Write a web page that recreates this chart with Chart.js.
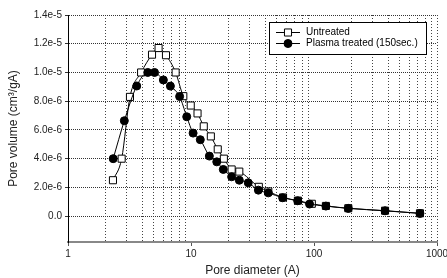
<!DOCTYPE html>
<html>
<head>
<meta charset="utf-8">
<script src="https://cdn.jsdelivr.net/npm/chart.js@4/dist/chart.umd.min.js"></script>
<style>
html, body { margin: 0; padding: 0; background: #fff; }
</style>
</head>
<body>
<canvas id="poreChart" width="447" height="278"></canvas>
<script>
// pore diameter (A) and pore volume values
var untreatedDiameter = [2.32, 2.73, 3.19, 3.93, 4.82, 5.45, 6.26, 7.5, 8.66, 9.95, 11.3, 12.7, 14.5,
    16.5, 18.5, 21.4, 24.7, 35.6, 42.5, 56, 74, 96, 125, 190, 378, 727];
var untreatedVolume = [2.5e-6, 4.0e-6, 8.3e-6, 1.0e-5, 1.124e-5, 1.17e-5, 1.12e-5, 1.0e-5, 8.35e-6, 7.7e-6,
    7.15e-6, 6.25e-6, 5.55e-6, 4.65e-6, 4.0e-6, 3.25e-6, 3.1e-6, 2.04e-6, 1.72e-6, 1.3e-6, 1.08e-6,
    0.86e-6, 0.71e-6, 0.55e-6, 0.38e-6, 0.2e-6];
var plasmaDiameter = [2.33, 2.87, 3.62, 4.45, 5.05, 5.96, 6.8, 8.08, 9.23, 10.4, 11.9, 14.1, 16.2,
    18.3, 21.4, 24.7, 29.2, 35.3, 42.5, 55.6, 73.7, 92, 125, 190, 378, 727];
var plasmaVolume = [4.0e-6, 6.64e-6, 9.06e-6, 1.0e-5, 1.0e-5, 9.48e-6, 9.05e-6, 8.33e-6, 6.92e-6, 5.78e-6,
    5.32e-6, 4.18e-6, 3.78e-6, 3.25e-6, 2.74e-6, 2.5e-6, 2.32e-6, 1.81e-6, 1.62e-6, 1.28e-6, 1.07e-6,
    0.84e-6, 0.70e-6, 0.54e-6, 0.37e-6, 0.19e-6];
var seriesLabels = ["Untreated", "Plasma treated (150sec.)"];
// axis ticks
var xDecades = [1, 10, 100, 1000];
var xMinorSteps = [2, 3, 4, 5, 6, 7, 8, 9];
var yTickValues = [0, 2e-6, 4e-6, 6e-6, 8e-6, 1.0e-5, 1.2e-5, 1.4e-5];
var yTickLabels = ["0.0", "2.0e-6", "4.0e-6", "6.0e-6", "8.0e-6", "1.0e-5", "1.2e-5", "1.4e-5"];

var FONT = "'Liberation Sans', Arial, sans-serif";

function toPoints(xs, ys) {
    var pts = [];
    for (var i = 0; i < xs.length; i++) {
        pts.push({ x: xs[i], y: ys[i] });
    }
    return pts;
}

function isDecade(v) {
    return xDecades.indexOf(v) !== -1;
}

//legend box drawn inside the plot like the original
var boxLegend = {
    id: 'boxLegend',
    afterDatasetsDraw: function (chart) {
        var ctx = chart.ctx;
        var left = 269, top = 22, right = 426, bottom = 54;
        ctx.save();
        ctx.fillStyle = '#fff';
        ctx.fillRect(left, top, right - left, bottom - top);
        ctx.strokeStyle = '#000';
        ctx.lineWidth = 1;
        ctx.strokeRect(left + 0.5, top + 0.5, right - left, bottom - top);
        var rows = [32, 43];
        for (var i = 0; i < 2; i++) {
            var ds = chart.data.datasets[i];
            var y = rows[i];
            ctx.strokeStyle = '#000';
            ctx.lineWidth = 1;
            ctx.beginPath();
            ctx.moveTo(276, y + 0.5);
            ctx.lineTo(300, y + 0.5);
            ctx.stroke();
            ctx.fillStyle = ds.pointBackgroundColor;
            ctx.beginPath();
            if (ds.pointStyle === 'rect') {
                var s = ds.pointRadius * Math.SQRT1_2;
                ctx.rect(288 - s, y + 0.5 - s, 2 * s, 2 * s);
            } else {
                ctx.arc(288, y + 0.5, ds.pointRadius, 0, Math.PI * 2);
            }
            ctx.fill();
            ctx.stroke();
            ctx.fillStyle = '#000';
            ctx.font = '10px ' + FONT;
            ctx.textBaseline = 'middle';
            ctx.textAlign = 'left';
            ctx.fillText(ds.label, 306, y);
        }
        ctx.restore();
    }
};

var config = {
    type: 'scatter',
    data: {
        datasets: [
            {
                label: seriesLabels[0],
                data: toPoints(untreatedDiameter, untreatedVolume),
                order: 1,
                showLine: true,
                borderColor: '#000',
                borderWidth: 1,
                pointStyle: 'rect',
                pointRadius: 5,
                pointBackgroundColor: '#fff',
                pointBorderColor: '#000',
                pointBorderWidth: 1,
                cubicInterpolationMode: 'monotone'
            },
            {
                label: seriesLabels[1],
                data: toPoints(plasmaDiameter, plasmaVolume),
                order: 0,
                showLine: true,
                borderColor: '#000',
                borderWidth: 1,
                pointStyle: 'circle',
                pointRadius: 4,
                pointBackgroundColor: '#000',
                pointBorderColor: '#000',
                pointBorderWidth: 1,
                cubicInterpolationMode: 'monotone'
            }
        ]
    },
    options: {
        responsive: false,
        animation: false,
        devicePixelRatio: 1,
        layout: { padding: { top: 15, right: 10, left: 0, bottom: 0 } },
        plugins: {
            legend: { display: false },
            tooltip: { enabled: false }
        },
        scales: {
            x: {
                type: 'logarithmic',
                min: 1,
                max: 1000,
                afterBuildTicks: function (scale) {
                    var ticks = [];
                    for (var d = 0; d < xDecades.length; d++) {
                        ticks.push({ value: xDecades[d] });
                        if (d < xDecades.length - 1) {
                            for (var m = 0; m < xMinorSteps.length; m++) {
                                ticks.push({ value: xDecades[d] * xMinorSteps[m] });
                            }
                        }
                    }
                    scale.ticks = ticks;
                },
                afterFit: function (scale) {
                    scale.height = 36;
                    scale.paddingLeft = 0;
                    scale.paddingRight = 0;
                },
                ticks: {
                    autoSkip: false,
                    maxRotation: 0,
                    padding: 2,
                    color: '#222',
                    font: { family: FONT, size: 10 },
                    callback: function (value) {
                        return isDecade(value) ? String(value) : '';
                    }
                },
                grid: {
                    color: function (c) {
                        var v = c.tick ? c.tick.value : null;
                        if (v === 10 || v === 100 || v === 1) return 'rgba(0,0,0,0)';
                        return '#444';
                    },
                    tickColor: function (c) {
                        var v = c.tick ? c.tick.value : null;
                        return isDecade(v) ? '#555' : 'rgba(0,0,0,0)';
                    },
                    tickLength: 4,
                    lineWidth: 1
                },
                border: { display: true, color: '#888', width: 2, dash: [1, 2] },
                title: {
                    display: true,
                    text: 'Pore diameter (A)',
                    color: '#222',
                    font: { family: FONT, size: 12 },
                    padding: { top: 0, bottom: 0 }
                }
            },
            y: {
                min: -1.8e-6,
                max: 1.4e-5,
                afterBuildTicks: function (scale) {
                    scale.ticks = yTickValues.map(function (v) { return { value: v }; });
                },
                afterFit: function (scale) {
                    scale.width = 68;
                    scale.paddingTop = 0;
                    scale.paddingBottom = 0;
                },
                ticks: {
                    padding: 3,
                    color: '#222',
                    font: { family: FONT, size: 10 },
                    callback: function (value, index) {
                        return yTickLabels[index];
                    }
                },
                grid: {
                    color: '#333',
                    tickLength: 3,
                    lineWidth: 1
                },
                border: { display: true, color: '#000', width: 1, dash: [1, 1] },
                title: {
                    display: true,
                    text: 'Pore volume (cm\u00b3/gA)',
                    color: '#222',
                    font: { family: FONT, size: 12 },
                    padding: { top: 6, bottom: 0 }
                }
            }
        }
    },
    plugins: [boxLegend]
};

new Chart(document.getElementById('poreChart'), config);
</script>
</body>
</html>
